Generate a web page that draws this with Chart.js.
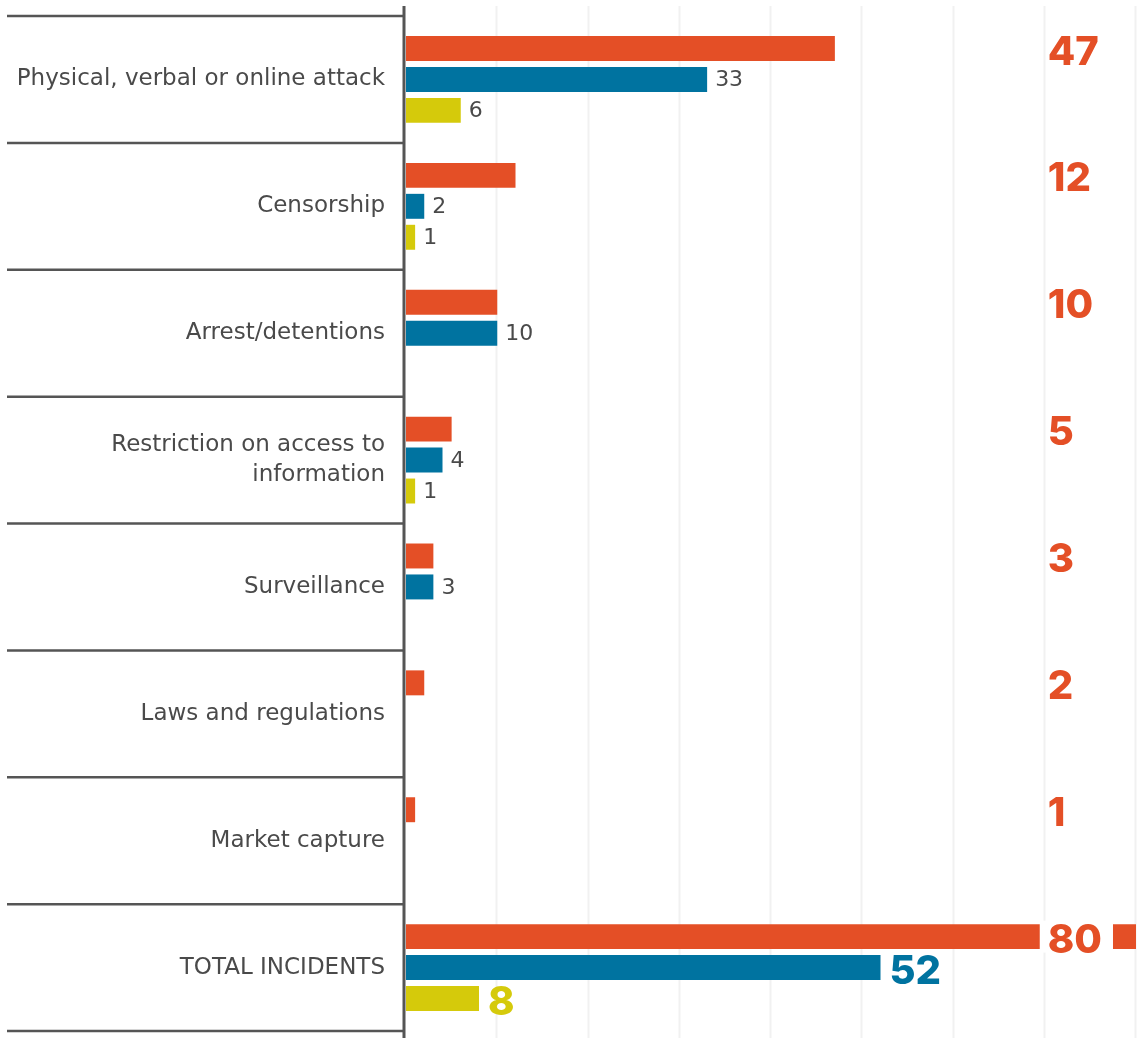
<!DOCTYPE html>
<html>
<head>
<meta charset="utf-8">
<script src="https://cdn.jsdelivr.net/npm/chart.js@4.4.1/dist/chart.umd.min.js"></script>
<style>
  html, body { margin: 0; padding: 0; background: #fff; }
  #wrap { width: 1139px; height: 1038px; position: relative; }
</style>
</head>
<body>
<div id="wrap"><canvas id="chart"></canvas></div>
<script>
const categories = [
  'Physical, verbal or online attack',
  'Censorship',
  'Arrest/detentions',
  ['Restriction on access to', 'information'],
  'Surveillance',
  'Laws and regulations',
  'Market capture',
  'TOTAL INCIDENTS',
]
const allIncidents = [47, 12, 10, 5, 3, 2, 1, 80]
const seriesB = [33, 2, 10, 4, 3, null, null, 52]
const seriesC = [6, 1, null, 1, null, null, null, 8]
const gridTicks = [10, 20, 30, 40, 50, 60, 70, 80]

const RED = '#e44f26'
const BLUE = '#0073a0'
const YELLOW = '#d5ca0b'
const GREY = '#4a4a4a'
const BOLD_FONT = 'Inter, sans-serif'
const LABEL_FONT = '"DejaVu Sans", sans-serif'

// grid lines, row separators and the heavy axis line
const framePlugin = {
  id: 'frame',
  beforeDatasetsDraw(chart) {
    const { ctx, chartArea, scales } = chart
    const h = chart.height
    ctx.save()
    ctx.strokeStyle = '#f1f1f1'
    ctx.lineWidth = 2
    gridTicks.forEach(v => {
      const x = Math.round(scales.x.getPixelForValue(v)) - 0.5
      ctx.beginPath()
      ctx.moveTo(x, 6)
      ctx.lineTo(x, h)
      ctx.stroke()
    })
    const band = (chartArea.bottom - chartArea.top) / categories.length
    ctx.strokeStyle = '#555'
    ctx.lineWidth = 2.5
    for (let k = 0; k <= categories.length; k++) {
      const y = chartArea.top + k * band
      ctx.beginPath()
      ctx.moveTo(7, y)
      ctx.lineTo(chartArea.left - 3, y)
      ctx.stroke()
    }
    ctx.lineWidth = 3
    ctx.beginPath()
    ctx.moveTo(chartArea.left - 2, 6)
    ctx.lineTo(chartArea.left - 2, h)
    ctx.stroke()
    ctx.restore()
  }
}

const labelPlugin = {
  id: 'valueLabels',
  afterDatasetsDraw(chart) {
    const { ctx, scales } = chart
    const last = categories.length - 1
    ctx.save()
    ctx.textBaseline = 'middle'
    ctx.textAlign = 'left'
    chart.data.datasets.forEach((ds, di) => {
      const meta = chart.getDatasetMeta(di)
      meta.data.forEach((bar, i) => {
        const v = ds.data[i]
        if (v == null) return
        const txt = String(v)
        if (di === 0) {
          // red totals sit in a fixed column on the right
          const x = scales.x.getPixelForValue(70) + 2
          ctx.font = `800 40px ${BOLD_FONT}`
          const w = ctx.measureText(txt).width
          if (i === last) {
            ctx.fillStyle = '#fff'
            ctx.fillRect(x - 7, bar.y - 16, Math.max(w + 19, 73), 32)
          }
          ctx.fillStyle = RED
          ctx.fillText(txt, x + 1, bar.y + 4)
        } else if (i === last) {
          ctx.font = `800 40px ${BOLD_FONT}`
          ctx.fillStyle = ds.backgroundColor
          ctx.fillText(txt, bar.x + 9, bar.y + 4)
        } else {
          ctx.font = `400 22px ${LABEL_FONT}`
          ctx.fillStyle = GREY
          ctx.fillText(txt, bar.x + 8, bar.y + 1)
        }
      })
    })
    ctx.restore()
  }
}

new Chart(document.getElementById('chart'), {
  type: 'bar',
  plugins: [framePlugin, labelPlugin],
  data: {
    labels: categories,
    datasets: [
      { label: 'All incidents', data: allIncidents, backgroundColor: RED },
      { label: 'Series B', data: seriesB, backgroundColor: BLUE },
      { label: 'Series C', data: seriesC, backgroundColor: YELLOW },
    ]
  },
  options: {
    indexAxis: 'y',
    responsive: true,
    maintainAspectRatio: false,
    animation: false,
    categoryPercentage: 0.732,
    barPercentage: 0.806,
    layout: { padding: { top: 16, bottom: 7, right: 3, left: 0 } },
    scales: {
      x: { display: false, min: 0, max: 80 },
      y: {
        afterFit(scale) {
          scale.width = 406
          scale.paddingTop = 0
          scale.paddingBottom = 0
        },
        grid: { display: false, drawTicks: false },
        border: { display: false },
        ticks: {
          padding: 21,
          color: GREY,
          font: { family: LABEL_FONT, size: 23, lineHeight: 1.3 },
        }
      }
    },
    plugins: {
      legend: { display: false },
      tooltip: { enabled: false }
    }
  }
})
</script>
</body>
</html>
